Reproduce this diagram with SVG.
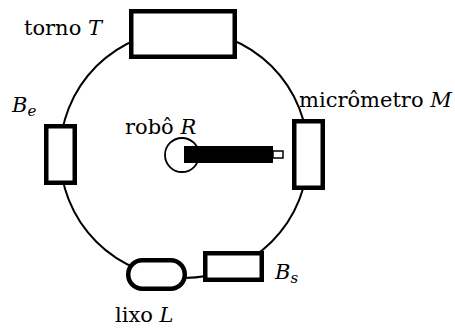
<svg xmlns="http://www.w3.org/2000/svg" width="455" height="330" viewBox="0 0 455 330">
<style>
.node{fill:#fff;stroke:#000;stroke-width:4.5}
.lbl{font-family:'DejaVu Serif','Liberation Serif',serif;font-size:21px;fill:#000}
.it{font-style:italic}
.sub{font-size:15px;font-style:italic}
</style>
<g id="connectors">
<circle cx="184" cy="154" r="124" fill="none" stroke="#000" stroke-width="2"/>
</g>
<g id="torno">
<rect class="node" x="131.25" y="11.25" width="103.5" height="45.5"/>
<text class="lbl" x="24" y="35">torno <tspan class="it">T</tspan></text>
</g>
<g id="Be">
<rect class="node" x="46.25" y="126.25" width="28.5" height="56.5"/>
<text class="lbl" x="12" y="112"><tspan class="it">B</tspan><tspan class="sub" dy="4">e</tspan></text>
</g>
<g id="micrometro">
<rect class="node" x="294.25" y="121.25" width="28.5" height="66.5"/>
<text class="lbl" x="299" y="107">micrômetro <tspan class="it">M</tspan></text>
</g>
<g id="Bs">
<rect class="node" x="205.25" y="253.25" width="56.5" height="26.5"/>
<text class="lbl" x="275" y="279"><tspan class="it">B</tspan><tspan class="sub" dy="4">s</tspan></text>
</g>
<g id="lixo">
<rect class="node" x="128.25" y="260.25" width="56.5" height="28.5" rx="14"/>
<text class="lbl" x="115" y="322">lixo <tspan class="it">L</tspan></text>
</g>
<g id="robo">
<circle cx="182" cy="155" r="17" fill="#fff" stroke="#000" stroke-width="1.8"/>
<rect x="184" y="146" width="89" height="17" fill="#000"/>
<rect x="273" y="151" width="10" height="7" fill="#fff" stroke="#000" stroke-width="1.5"/>
<text class="lbl" x="125" y="134">robô <tspan class="it">R</tspan></text>
</g>
</svg>
